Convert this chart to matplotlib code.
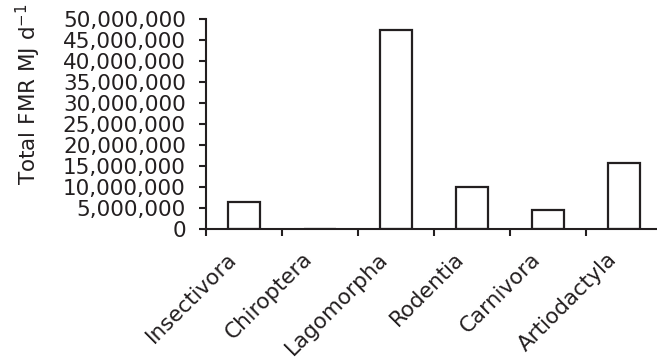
import numpy as np
import matplotlib.pyplot as plt
import matplotlib.transforms as mtransforms
from matplotlib.ticker import FuncFormatter

orders = ["Insectivora", "Chiroptera", "Lagomorpha", "Rodentia", "Carnivora", "Artiodactyla"]
total_fmr = [6.5e6, 0.0, 47.4e6, 9.9e6, 4.4e6, 15.6e6]

plt.rcParams.update({'font.family': 'DejaVu Sans', 'font.size': 15.5})

fig = plt.figure(figsize=(6.57, 3.6), dpi=100)
ax = fig.add_axes([0.3135, 0.364, 0.6865, 0.583])

x = np.arange(len(orders))
ax.bar(x, total_fmr, width=0.42, facecolor="white", edgecolor="#231f20", linewidth=1.6)

ax.set_ylim(0, 50e6)
ax.set_yticks(np.arange(0, 50e6 + 1, 5e6))
ax.yaxis.set_major_formatter(FuncFormatter(lambda v, p: "{:,.0f}".format(v)))
ax.set_xlim(-0.5, 5.43)

# ticks at category boundaries, labels at centres
ax.set_xticks(np.arange(len(orders)) - 0.5)
ax.set_xticklabels([])
ax.set_xticks(x, minor=True)
ax.set_xticklabels(orders, minor=True, rotation=45, ha="right", va="top", rotation_mode="anchor")
ax.tick_params(axis="x", which="minor", length=0, pad=9)
ax.tick_params(axis="both", which="major", length=5, width=1.5, color="#231f20", direction="out")
ax.tick_params(axis="y", pad=9.5, labelcolor="#231f20")
ax.tick_params(axis="x", which="minor", labelcolor="#231f20")

shift = mtransforms.ScaledTranslation(-18 / 100, -7 / 100, fig.dpi_scale_trans)
for lbl in ax.get_xticklabels(minor=True):
    lbl.set_transform(lbl.get_transform() + shift)

for side in ["top", "right"]:
    ax.spines[side].set_visible(False)
for side in ["left", "bottom"]:
    ax.spines[side].set_linewidth(1.5)
    ax.spines[side].set_color("#231f20")

ax.set_ylabel("Total FMR MJ d$^{-1}$", color="#231f20")
ax.yaxis.set_label_coords(-0.361, 0.64)

plt.savefig("out.png", dpi=100)
